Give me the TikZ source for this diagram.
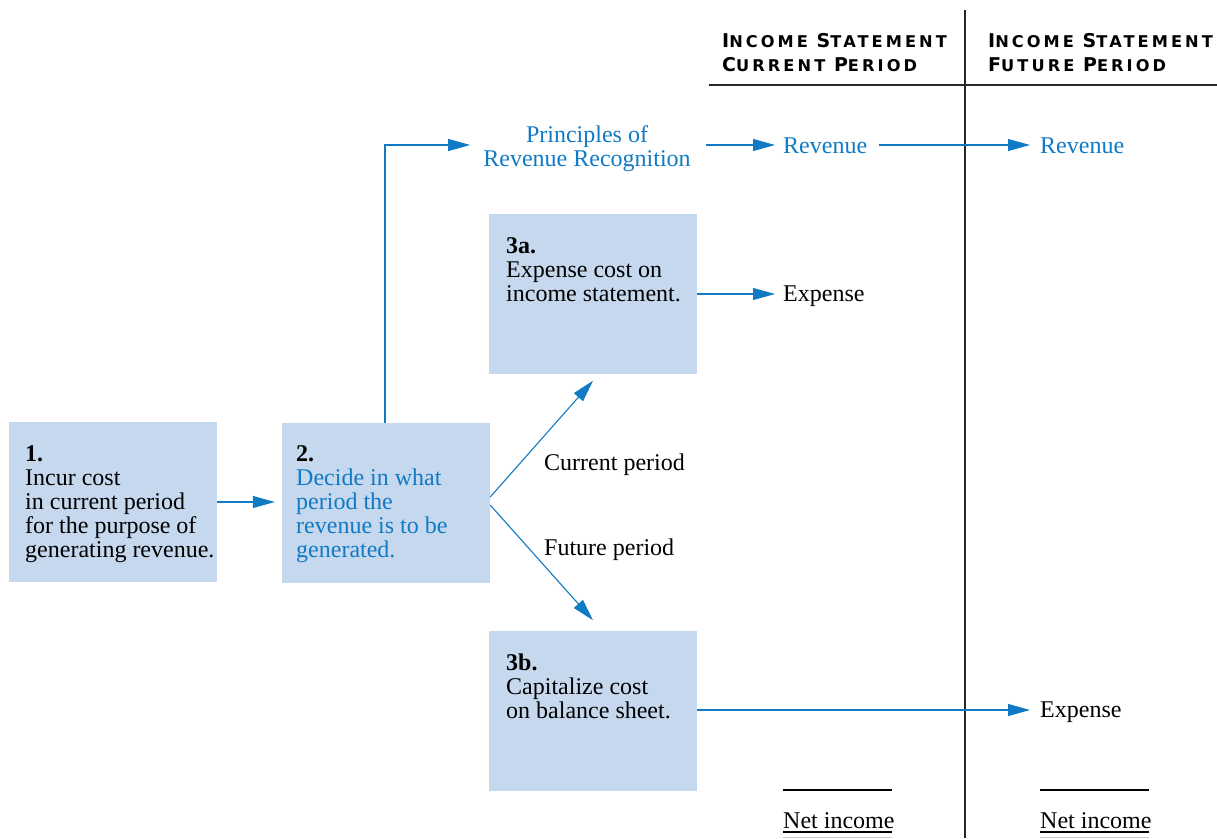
\documentclass[tikz,border=0pt]{standalone}
\usepackage{fontspec}
\setmainfont{Liberation Serif}
\newfontfamily\hdrfont[LetterSpace=19]{DejaVu Sans Bold}
\usetikzlibrary{arrows.meta}
\definecolor{boxfill}{RGB}{198,216,238}
\definecolor{cblue}{RGB}{16,122,196}
\definecolor{rulegray}{RGB}{40,40,40}
\newcommand\scaps[2]{{\fontsize{19}{24}\selectfont #1}{\fontsize{16.2}{24}\selectfont #2}}
\begin{document}
\begin{tikzpicture}[x=1pt,y=-1pt,
  font=\fontsize{24}{24}\selectfont,
  box/.style={fill=boxfill,draw=none,inner sep=0pt,minimum width=208pt,minimum height=160pt},
  txt/.style={inner sep=0pt,align=left,anchor=north west},
  lbl/.style={inner sep=0pt,anchor=west},
  arr/.style={draw=cblue,line width=1.1pt,-{Triangle[length=22pt,width=12pt]}},
  rule/.style={draw=rulegray,line width=1.4pt},
  hdr/.style={inner sep=0pt,anchor=north west,align=left,font=\hdrfont\fontsize{16.2}{24}\selectfont}]
\useasboundingbox (0,0) rectangle (1217,838);
% boxes
\node[box] (b1) at (113,502) {};
\node[box] (b2) at (386,503) {};
\node[box] (b3a) at (593,293.5) {};
\node[box] (b3b) at (593,710.5) {};
% box texts
\node[txt] (t1) at (25,445) {\textbf{1.}\\Incur cost\\in current period\\for the purpose of\\generating revenue.};
\node[txt] (t2) at (296,445) {\textbf{2.}\\\textcolor{cblue}{Decide in what}\\\textcolor{cblue}{period the}\\\textcolor{cblue}{revenue is to be}\\\textcolor{cblue}{generated.}};
\node[txt] (t3a) at (506,237) {\textbf{3a.}\\Expense cost on\\income statement.};
\node[txt] (t3b) at (506,654) {\textbf{3b.}\\Capitalize cost\\on balance sheet.};
% other labels
\node[inner sep=0pt,align=center,text=cblue] (prin) at (587,149) {Principles of\\Revenue Recognition};
\node[lbl,text=cblue] (rev1) at (783,146) {Revenue};
\node[lbl,text=cblue] (rev2) at (1040,146) {Revenue};
\node[lbl] (exp1) at (783,296) {Expense};
\node[lbl] (exp2) at (1040,712) {Expense};
\node[lbl] (cur) at (544,465) {Current period};
\node[lbl] (fut) at (544,550) {Future period};
\node[lbl] (ni1) at (783,821) {Net income};
\node[lbl] (ni2) at (1040,821) {Net income};
% headers
\node[hdr] (h1) at (722,33) {\scaps{I}{NCOME} \scaps{S}{TATEMENT}\\\scaps{C}{URRENT} \scaps{P}{ERIOD}};
\node[hdr] (h2) at (988,33) {\scaps{I}{NCOME} \scaps{S}{TATEMENT}\\\scaps{F}{UTURE} \scaps{P}{ERIOD}};
% rules
\coordinate (vtop) at (965,10);
\coordinate (vbot) at (965,838);
\draw[rule] (vtop) -- (vbot);
\coordinate (hl) at (709,85);
\coordinate (hr) at (1217,85);
\draw[rule] (hl) -- (hr);
\draw[line width=1.3pt] (ni1.west |- 0,790) -- ([xshift=-3pt]ni1.east |- 0,790);
\draw[line width=1.3pt] (ni2.west |- 0,790) -- ([xshift=-3pt]ni2.east |- 0,790);
\draw[line width=1.3pt] (ni1.west |- 0,832) -- ([xshift=-3pt]ni1.east |- 0,832);
\draw[line width=1.3pt] (ni2.west |- 0,832) -- ([xshift=-3pt]ni2.east |- 0,832);
\draw[line width=1pt,gray!40] (ni1.west |- 0,837) -- ([xshift=-3pt]ni1.east |- 0,837);
\draw[line width=1pt,gray!40] (ni2.west |- 0,837) -- ([xshift=-3pt]ni2.east |- 0,837);
% arrows
\draw[arr,shorten >=7pt] (b1.east) -- (b1.east -| b2.west);
\draw[arr,shorten >=13pt] ([xshift=-1pt]b2.north) |- ([yshift=4pt]prin.west);
\draw[arr,shorten <=15pt,shorten >=8pt] ([yshift=1pt]prin.east |- rev1.west) -- ([yshift=1pt]rev1.west);
\draw[arr,shorten <=12pt,shorten >=10pt] ([yshift=1pt]rev1.east) -- ([yshift=1pt]rev2.west);
\draw[arr,shorten >=8pt] ([yshift=2pt]b3a.east |- exp1.west) -- ([yshift=2pt]exp1.west);
\draw[arr,shorten >=10pt] ([yshift=2pt]b3b.east |- exp2.west) -- ([yshift=2pt]exp2.west);
\draw[arr] ([yshift=6pt]b2.east) -- ([yshift=-7pt]b3a.south);
\draw[arr] ([yshift=-2pt]b2.east) -- ([yshift=10pt]b3b.north);
\end{tikzpicture}
\end{document}
